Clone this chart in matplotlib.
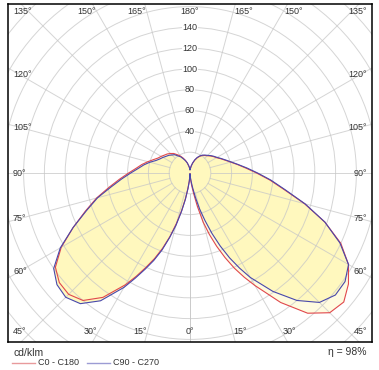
import numpy as np
import matplotlib.pyplot as plt
from matplotlib.lines import Line2D
from matplotlib.patches import Circle

plt.rcParams['font.family'] = ['Liberation Sans', 'DejaVu Sans']

# luminous intensity in cd/klm, gamma measured from nadir
gamma = [0, 2.5, 5, 7.5, 10, 12.5, 15, 17.5, 20, 22.5, 25, 27.5, 30, 35, 40, 45, 50, 55, 60,
         65, 70, 75, 80, 85, 90, 95, 100, 105, 110, 115, 120, 125, 130, 135, 140, 145, 150,
         155, 160, 165, 170, 175, 180]
c0 = [1, 3, 6, 12, 20, 33, 49, 62, 75, 88, 101, 113, 125, 152, 176, 190, 193, 186, 176,
      160, 138, 114, 92, 77, 64, 54, 46.5, 40.5, 36, 32.5, 29.5, 27.5, 25.5, 23.5, 22, 20.5, 18.5,
      16, 13, 10, 7, 4.5, 3]
c180 = [1, 3, 8, 15, 25, 37, 50, 64, 77, 89, 100, 112, 124, 146, 160, 165, 164, 158, 143,
        124, 107, 93, 79, 68, 59, 52, 47, 42, 37.5, 34, 32, 30, 28.5, 26.5, 24.5, 21.5, 19,
        16, 13, 10, 7, 5, 3]
c90 = [1, 2, 4, 8, 14, 24, 36, 48, 62, 76, 90, 103, 116, 139, 160, 176, 182.5, 182, 176,
       159, 138, 114.5, 93, 78, 65, 55, 47, 41, 36.5, 33, 30, 28, 26, 24, 22.5, 21, 19,
       16.5, 13.5, 10, 7, 4.5, 3]
c270 = [1, 3, 8, 15, 26, 38, 52, 65, 79, 91, 102, 114, 127, 150, 164, 169, 167, 160, 144,
        124, 106, 92, 77, 66, 57, 50, 45, 40, 35, 32, 30, 28, 26.5, 24.5, 23, 20, 18,
        15, 12.5, 10, 7, 5, 3]

radial_ticks = [40, 60, 80, 100, 120, 140]
grid_r = np.arange(20, 260, 20)
spoke_angles = np.arange(0, 180, 15)
eta_text = "\u03b7 = 98%"

W, H = 379, 370
s = 1.04  # px per cd/klm
cx, cy = 190, 173


def outline(right, left):
    g = np.radians(gamma)
    right = np.asarray(right, float)
    left = np.asarray(left, float)
    x = np.concatenate([np.sin(g) * right, -np.sin(g[::-1]) * left[::-1]])
    y = np.concatenate([-np.cos(g) * right, -np.cos(g[::-1]) * left[::-1]])
    return x, y


fig = plt.figure(figsize=(W / 100, H / 100), dpi=100)
ax = fig.add_axes([8 / W, 28 / H, 364 / W, 338 / H])
ax.set_xlim(-182 / s, 182 / s)
ax.set_ylim(-169 / s, 169 / s)
ax.set_xticks([])
ax.set_yticks([])
for sp in ax.spines.values():
    sp.set_linewidth(1.1)
    sp.set_color('black')

gridc = (0.78, 0.78, 0.78, 0.75)
for r in grid_r:
    ax.add_patch(Circle((0, 0), r, fill=False, ec=gridc, lw=0.7, zorder=2))
for a in spoke_angles:
    t = np.radians(a)
    for side in (1, -1):
        ax.plot([side * np.sin(t) * 20, side * np.sin(t) * 400],
                [-np.cos(t) * 20, -np.cos(t) * 400], color=gridc, lw=0.7, zorder=2)

xr, yr = outline(c0, c180)
xb, yb = outline(c90, c270)
ax.fill(xr, yr, color='#fffbdf', lw=0, zorder=1)
ax.fill(xb, yb, color='#fff8be', lw=0, zorder=1.1)
ax.plot(xr, yr, color='#e0484c', lw=0.8, zorder=3)
ax.plot(xb, yb, color='#4848ac', lw=0.8, zorder=3.1)

for r in radial_ticks:
    ax.text(0, r, str(r), fontsize=6.5, color='#333333', ha='center', va='center', zorder=4,
            bbox=dict(facecolor='white', edgecolor='none', pad=0.2))

# angle labels around the frame
lab_kw = dict(fontsize=6.5, color='#333333', va='center', zorder=4)
top_y = (cy - 12) / s
bot_y = -(332 - cy) / s
for a in [45, 60, 75, 90, 105, 120, 135]:
    y = -163.5 * np.cos(np.radians(a)) / np.sin(np.radians(a))
    y = min(max(y, bot_y), top_y)
    ax.text(-(cx - 13) / s, y, f"{a}\u00b0", ha='left', **lab_kw)
    ax.text((367 - cx) / s, y, f"{a}\u00b0", ha='right', **lab_kw)
for a in [0, 15, 30, 150, 165, 180]:
    yrow = bot_y if a < 90 else top_y
    x = abs(np.tan(np.radians(a)) * yrow)
    if x < 1e-6:
        ax.text(0, yrow, f"{a}\u00b0", ha='center', **lab_kw)
    else:
        ax.text(-x - 1 / s, yrow, f"{a}\u00b0", ha='right', **lab_kw)
        ax.text(x + 1 / s, yrow, f"{a}\u00b0", ha='left', **lab_kw)

# footer
fig.text(13 / W, 1 - 353 / H, "cd/klm", fontsize=7.5, color='#333333', va='center', ha='left')
fig.text(367 / W, 1 - 352 / H, eta_text, fontsize=7.5, color='#333333', va='center', ha='right')
ly = 1 - 362.5 / H
fig.add_artist(Line2D([12 / W, 35 / W], [ly, ly], color='#e89a9c', lw=1.0))
fig.text(38 / W, ly, "C0 - C180", fontsize=6.5, color='#333333', va='center', ha='left')
fig.add_artist(Line2D([87 / W, 110 / W], [ly, ly], color='#9c9cd4', lw=1.0))
fig.text(113 / W, ly, "C90 - C270", fontsize=6.5, color='#333333', va='center', ha='left')

fig.savefig('out.png', dpi=100, facecolor='white')
